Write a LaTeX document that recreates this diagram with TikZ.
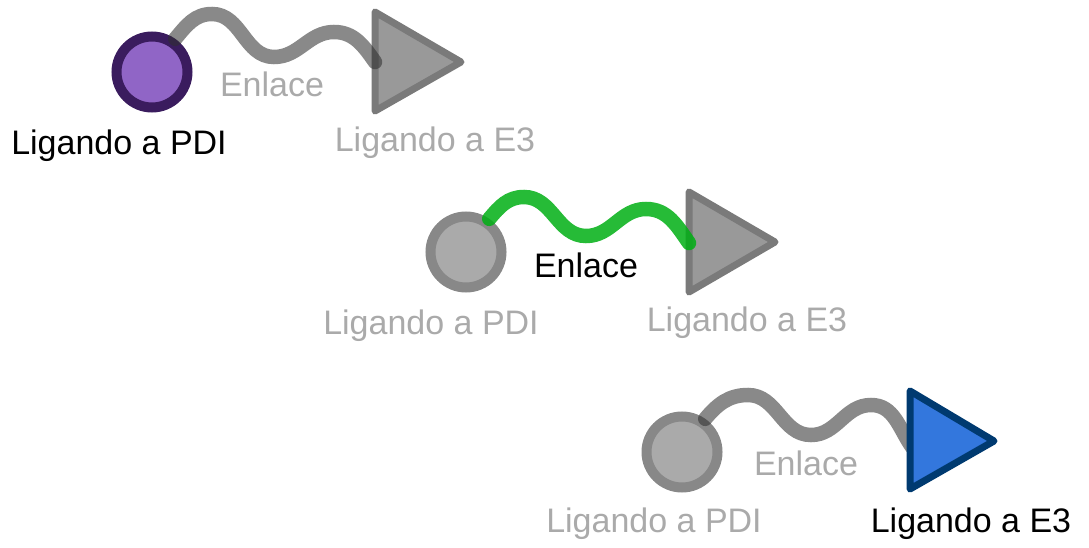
\documentclass[tikz,border=0pt]{standalone}
\usepackage{fontspec}
\setmainfont{Liberation Sans}
\usepackage{tikz}
\definecolor{pdipurple}{RGB}{144,101,198}
\definecolor{pdidark}{RGB}{58,28,94}
\definecolor{pdigray}{RGB}{170,170,170}
\definecolor{pdigraydark}{RGB}{136,136,136}
\definecolor{e3gray}{RGB}{153,153,153}
\definecolor{e3graydark}{RGB}{122,122,122}
\definecolor{e3blue}{RGB}{51,119,221}
\definecolor{e3dark}{RGB}{0,58,112}
\definecolor{wavegray}{RGB}{47,47,47}
\definecolor{wavegreen}{RGB}{0,175,20}
\definecolor{textgray}{RGB}{170,170,170}

\begin{document}
\begin{tikzpicture}[x=1pt, y=1pt,
  every node/.style={font=\fontsize{34}{40}\selectfont},
  pdi/.style={circle, line width=10pt, minimum size=71pt, inner sep=0pt},
  e3/.style={line width=7pt, line join=round},
  wave/.style={line width=14.5pt, line cap=round},
  lbl/.style={anchor=base, inner sep=0pt}]

\useasboundingbox (0,0) rectangle (1089,547);

% first: PDI selected
\node[pdi, draw=pdidark, fill=pdipurple] (pdiA) at (152,475) {};
\filldraw[e3, draw=e3graydark, fill=e3gray] (375,535) -- (375,436) -- (461,485) -- cycle;
\coordinate (e3A) at (375,485);
\draw[wave, draw=wavegray, opacity=0.57] (pdiA.55) to[out=50,in=180] (212,533) to[out=0,in=180] (274,490) to[out=0,in=180] (334,515) to[out=0,in=125] (e3A);
\node[lbl, text=black] (pdiAlabel) at (119,392) {Ligando a PDI};
\node[lbl, text=textgray] (e3Alabel) at (435,395) {Ligando a E3};
\node[lbl, text=textgray] (enlaceA) at (272,450) {Enlace};

% second: link selected
\node[pdi, draw=pdigraydark, fill=pdigray] (pdiB) at (466,295) {};
\filldraw[e3, draw=e3graydark, fill=e3gray] (689,355) -- (689,255) -- (775,305) -- cycle;
\coordinate (e3B) at (689,304);
\draw[wave, draw=wavegreen, opacity=0.85] (pdiB.55) to[out=50,in=180] (524,350) to[out=0,in=180] (586,311) to[out=0,in=180] (646,338) to[out=0,in=125] (e3B);
\node[lbl, text=textgray] (pdiBlabel) at (431,213) {Ligando a PDI};
\node[lbl, text=textgray] (e3Blabel) at (747,216) {Ligando a E3};
\node[lbl, text=black] (enlaceB) at (586,270) {Enlace};

% third: E3 selected
\node[pdi, draw=pdigraydark, fill=pdigray] (pdiC) at (682,95) {};
\coordinate (e3C) at (912,100);
\draw[wave, draw=wavegray, opacity=0.57] (pdiC.55) to[out=50,in=180] (748,152) to[out=0,in=180] (811,112) to[out=0,in=180] (871,142) to[out=0,in=125] (e3C);
\filldraw[e3, draw=e3dark, fill=e3blue] (910,156) -- (910,58) -- (994,106) -- cycle;
\node[lbl, text=textgray] (pdiClabel) at (654,15) {Ligando a PDI};
\node[lbl, text=black] (e3Clabel) at (971,15) {Ligando a E3};
\node[lbl, text=textgray] (enlaceC) at (806,72) {Enlace};

\end{tikzpicture}
\end{document}
